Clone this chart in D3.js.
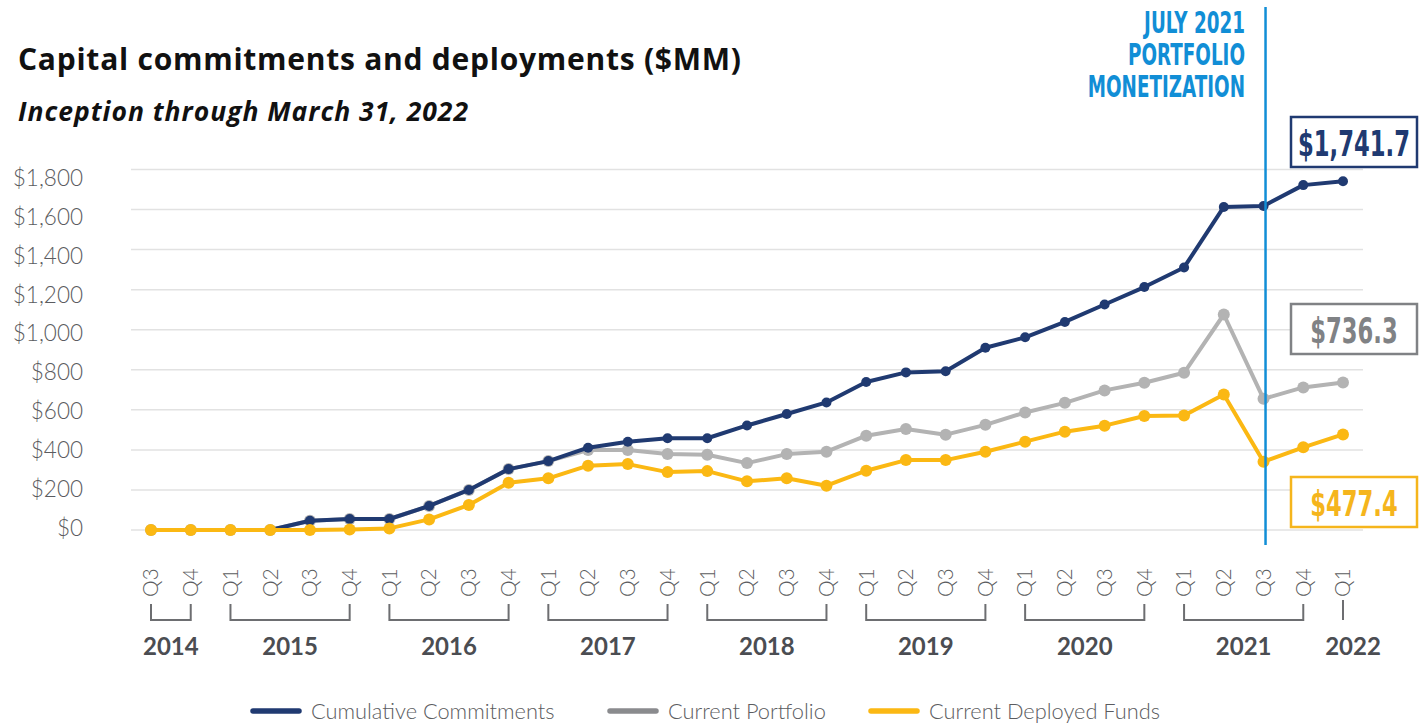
<!DOCTYPE html>
<html>
<head>
<meta charset="utf-8">
<script src="https://cdn.jsdelivr.net/npm/d3@7"></script>
<style>
  html, body { margin: 0; padding: 0; background: #fff; }
  svg { display: block; }
</style>
</head>
<body>
<svg id="chart"></svg>
<script>
// quarters from Q3 2014 through Q1 2022
const quarters = ["Q3","Q4",
  "Q1","Q2","Q3","Q4",
  "Q1","Q2","Q3","Q4",
  "Q1","Q2","Q3","Q4",
  "Q1","Q2","Q3","Q4",
  "Q1","Q2","Q3","Q4",
  "Q1","Q2","Q3","Q4",
  "Q1","Q2","Q3","Q4",
  "Q1"];
const years = ["2014","2015","2016","2017","2018","2019","2020","2021","2022"];
const yearOf = [2014,2014,
  2015,2015,2015,2015, 2016,2016,2016,2016, 2017,2017,2017,2017, 2018,2018,2018,2018,
  2019,2019,2019,2019, 2020,2020,2020,2020, 2021,2021,2021,2021, 2022];

const cumulative = [0,0,0,0,46,55,55,120,200,304,344,411,441,458,458,522,579,637,739,787,793,910,962,1039,1126,1213,1311,1613,1618,1722,1741.7];
const portfolio  = [0,0,0,0,46,55,55,120,200,304,344,399,399,379,376,334,379,391,471,504,476,525,587,635,697,735,785,1076,655,712,736.3];
const deployed   = [0,0,0,0,0,3,8,53,125,236,258,321,329,289,294,243,258,221,296,349,349,391,441,491,521,569,572,677,341,413,477.4];

const yTicks = [0,200,400,600,800,1000,1200,1400,1600,1800];
const legendNames = ["Cumulative Commitments","Current Portfolio","Current Deployed Funds"];
const annotationLines = ["JULY 2021","PORTFOLIO","MONETIZATION"];
const monetizationIndex = 28; // Q3 2021

const W = 1424, H = 723;
const colors = { navy: "#203a71", grey: "#b3b3b3", yellow: "#fbb813", blue: "#118ed6", text: "#5b5c60", dark: "#4b4d52", boxGrey: "#808285", boxYellow: "#f5b51c" };
const condensed = "'Liberation Sans Narrow', 'DejaVu Sans Condensed', sans-serif";

const svg = d3.select("#chart").attr("width", W).attr("height", H);

const keys = quarters.map((q, i) => i);
const x = d3.scalePoint().domain(keys).range([151, 1343]);
const y = d3.scaleLinear().domain([0, 1800]).range([530, 169.5]);
const yLabel = d3.scaleLinear().domain([0, 1800]).range([528, 178]);

// title
svg.append("text").attr("x", 18).attr("y", 70)
  .attr("textLength", 723).attr("lengthAdjust", "spacing")
  .style("font-family", "'Open Sans', Lato, sans-serif").style("font-weight", 700)
  .style("font-size", "30px").style("fill", "#111")
  .text("Capital commitments and deployments ($MM)");
svg.append("text").attr("x", 18).attr("y", 121)
  .attr("textLength", 450).attr("lengthAdjust", "spacing")
  .style("font-family", "'Open Sans', Lato, sans-serif").style("font-weight", 700)
  .style("font-style", "italic").style("font-size", "26.5px").style("fill", "#111")
  .text("Inception through March 31, 2022");

// grid
svg.append("g").selectAll("line").data(yTicks).join("line")
  .attr("x1", 131).attr("x2", 1363)
  .attr("y1", d => y(d)).attr("y2", d => y(d))
  .style("stroke", "#e2e2e2").style("stroke-width", 1.5);

svg.append("g").selectAll("text").data(yTicks).join("text")
  .attr("x", 83).attr("y", d => yLabel(d)).attr("dy", "0.35em")
  .attr("text-anchor", "end")
  .style("font-family", "Lato, sans-serif").style("font-weight", 300)
  .style("font-size", "22.5px").style("fill", colors.text)
  .text(d => d3.format("$,")(d));

// x quarter labels
svg.append("g").selectAll("text").data(keys).join("text")
  .attr("transform", d => `translate(${x(d)},597) rotate(-90)`)
  .attr("dy", "0.35em")
  .style("font-family", "Lato, sans-serif").style("font-weight", 300)
  .style("font-size", "21px").style("fill", colors.text)
  .text(d => quarters[d]);

// year brackets
const yearGroups = years.map(yr => {
  const idx = keys.filter(i => String(yearOf[i]) === yr);
  return { year: yr, first: idx[0], last: idx[idx.length - 1] };
});
const brackets = svg.append("g").style("stroke", "#6d6e71").style("stroke-width", 2).style("fill", "none");
yearGroups.forEach(g => {
  if (g.first === g.last) {
    brackets.append("line").attr("x1", x(g.first)).attr("x2", x(g.first)).attr("y1", 600).attr("y2", 620);
  } else {
    brackets.append("path")
      .attr("d", `M${x(g.first)},604V620H${x(g.last)}V604`);
  }
});
svg.append("g").selectAll("text").data(yearGroups).join("text")
  .attr("x", d => (x(d.first) + x(d.last)) / 2 + (d.first === d.last ? 10 : 0))
  .attr("y", 655).attr("text-anchor", "middle")
  .style("font-family", "Lato, sans-serif").style("font-weight", 700)
  .style("font-size", "24px").style("fill", colors.dark)
  .text(d => d.year);

// series
const series = [
  { name: legendNames[1], values: portfolio, color: colors.grey, r: 6 },
  { name: legendNames[0], values: cumulative, color: colors.navy, r: 5 },
  { name: legendNames[2], values: deployed, color: colors.yellow, r: 6 }
];
const line = d3.line().x((d, i) => x(i)).y(d => y(d));
series.forEach(s => {
  const g = svg.append("g");
  g.append("path").datum(s.values).attr("d", line)
    .style("fill", "none").style("stroke", s.color).style("stroke-width", 4)
    .style("stroke-linejoin", "round");
  g.selectAll("circle").data(s.values).join("circle")
    .attr("cx", (d, i) => x(i)).attr("cy", d => y(d)).attr("r", s.r)
    .style("fill", s.color);
});

// monetization marker
svg.append("line")
  .attr("x1", x(monetizationIndex) + 2).attr("x2", x(monetizationIndex) + 2)
  .attr("y1", 7).attr("y2", 545)
  .style("stroke", colors.blue).style("stroke-width", 2.5);
svg.append("g").selectAll("text").data(annotationLines).join("text")
  .attr("transform", (d, i) => `translate(1245,${33 + i * 32}) scale(0.68,1)`)
  .attr("text-anchor", "end")
  .style("font-family", condensed)
  .style("font-weight", 700).style("font-size", "30px").style("fill", colors.blue)
  .text(d => d);

// value callouts
const callouts = [
  { value: cumulative[cumulative.length - 1], color: colors.navy, top: 117 },
  { value: portfolio[portfolio.length - 1], color: colors.boxGrey, top: 304 },
  { value: deployed[deployed.length - 1], color: colors.boxYellow, top: 477 }
];
callouts.forEach(c => {
  svg.append("rect").attr("x", 1291).attr("y", c.top).attr("width", 126).attr("height", 50)
    .style("fill", "#fff").style("stroke", c.color).style("stroke-width", 2.5);
  svg.append("text")
    .attr("transform", `translate(1354,${c.top + 39}) scale(0.7,1)`)
    .attr("text-anchor", "middle")
    .style("font-family", condensed)
    .style("font-weight", 700).style("font-size", "36px").style("fill", c.color)
    .text(d3.format("$,.1f")(c.value));
});

// legend
const legendItems = [
  { name: legendNames[0], color: colors.navy, x: 250 },
  { name: legendNames[1], color: colors.grey, x: 607 },
  { name: legendNames[2], color: colors.yellow, x: 868 }
];
const legend = svg.append("g");
legendItems.forEach(l => {
  legend.append("line").attr("x1", l.x + 3).attr("x2", l.x + 49).attr("y1", 711).attr("y2", 711)
    .style("stroke", l.color === colors.grey ? "#8a8b8e" : l.color)
    .style("stroke-width", 5.5).style("stroke-linecap", "round");
  legend.append("text").attr("x", l.x + 61).attr("y", 711).attr("dy", "0.35em")
    .style("font-family", "Lato, sans-serif").style("font-weight", 300)
    .style("font-size", "21.8px").style("fill", colors.text)
    .text(l.name);
});
</script>
</body>
</html>
